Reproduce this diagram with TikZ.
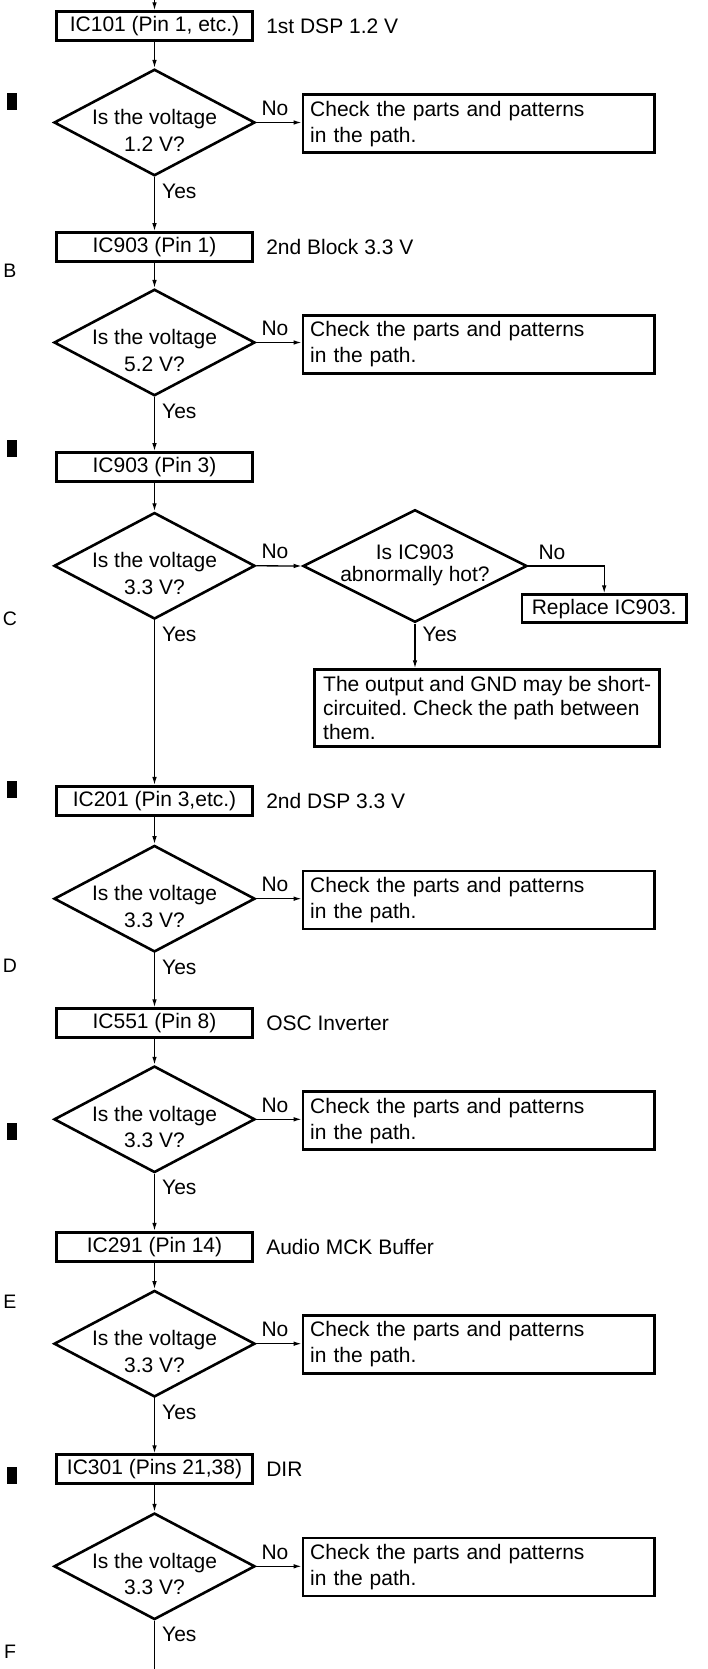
\documentclass[tikz,border=0pt]{standalone}
\usepackage{fontspec}
\setmainfont{Liberation Sans}
\usetikzlibrary{arrows.meta,shapes.geometric,calc}
\begin{document}
\frenchspacing
\begin{tikzpicture}[x=1pt,y=-1pt,
  every node/.style={font=\fontsize{21}{26}\selectfont},
  conn/.style={line width=1.3pt,-{Latex[length=8pt,width=4.6pt]}},
  plainline/.style={line width=1.3pt},
  pbox/.style={draw,line width=2.7pt,rectangle,minimum width=196.4pt,minimum height=29pt,inner sep=0pt},
  dia/.style={draw,line width=2.6pt,diamond,minimum width=201pt,minimum height=106.5pt,inner sep=0pt},
  bigdia/.style={draw,line width=2.6pt,diamond,minimum width=224pt,minimum height=112.5pt,inner sep=0pt},
  dtxt/.style={align=center,inner sep=0pt,font=\fontsize{21}{26.7}\selectfont},
  chk/.style={draw,line width=2.7pt,rectangle,minimum width=351.5pt,minimum height=58pt,inner xsep=7pt,inner ysep=0pt,text width=337pt,align=left,font=\fontsize{21}{26}\selectfont},
  side/.style={anchor=west,inner sep=0pt},
  lbl/.style={anchor=base west,inner sep=0pt},
  marker/.style={fill=black,minimum width=10pt,minimum height=17pt,inner sep=0pt},
  sect/.style={inner sep=0pt,font=\fontsize{19.5}{22}\selectfont}
]
\fill[white] (0,0) rectangle (708,1669);
\useasboundingbox (0,0) rectangle (708,1669);

% markers and section letters
\node[marker] (m1) at (11.7,101.5) {};
\node[marker] (m2) at (11.7,448.5) {};
\node[marker] (m3) at (11.7,789) {};
\node[marker] (m4) at (11.7,1131.5) {};
\node[marker] (m5) at (11.7,1475.5) {};
\node[sect] (sB) at (10,270.3) {B};
\node[sect] (sC) at (10,618.3) {C};
\node[sect] (sD) at (10,966) {D};
\node[sect] (sE) at (10,1302) {E};
\node[sect] (sF) at (10,1652) {F};

% top start
\coordinate (top) at (154.5,0);
\coordinate (bot) at (154.5,1669);

% step 1
\node[pbox] (b1) at (154.5,26.2) {IC101 (Pin 1, etc.)};
\node[side] (l1) at ($(b1.east)+(12,0)$) {1st DSP 1.2 V};
\node[dia] (d1) at (154.5,122.5) {};
\node[dtxt] (t1) at ($(d1.center)+(0,7.8)$) {Is the voltage\\1.2 V?};
\node[chk] (c1) at (478.7,123.7) {Check the parts and patterns\\in the path.};

% step 2
\node[pbox] (b2) at (154.5,247) {IC903 (Pin 1)};
\node[side] (l2) at ($(b2.east)+(12,0)$) {2nd Block 3.3 V};
\node[dia] (d2) at (154.5,342.5) {};
\node[dtxt] (t2) at ($(d2.center)+(0,7.8)$) {Is the voltage\\5.2 V?};
\node[chk] (c2) at (478.7,344.2) {Check the parts and patterns\\in the path.};

% step 3
\node[pbox] (b3) at (154.5,467) {IC903 (Pin 3)};
\node[dia] (d3) at (154.5,565.8) {};
\node[dtxt] (t3) at ($(d3.center)+(0,7.8)$) {Is the voltage\\3.3 V?};
\node[bigdia] (d4) at (415,566) {};
\node[dtxt,font=\fontsize{21}{21.7}\selectfont] (t4) at ($(d4.center)+(0,-0.5)$) {Is IC903\\abnormally hot?};
\node[draw,line width=2.7pt,minimum width=164.4pt,minimum height=28pt,inner sep=0pt] (rep) at (604.2,608.7) {Replace IC903.};
\node[draw,line width=2.7pt,minimum width=345pt,minimum height=76.8pt,inner sep=0pt,align=left,font=\fontsize{21}{24}\selectfont] (sb) at (487.2,708) {The output and GND may be short-\\circuited. Check the path between\\them.};

% step 4
\node[pbox] (b4) at (154.5,800.8) {IC201 (Pin 3,etc.)};
\node[side] (l4) at ($(b4.east)+(12,0)$) {2nd DSP 3.3 V};
\node[dia] (d5) at (154.5,898.7) {};
\node[dtxt] (t5) at ($(d5.center)+(0,7.8)$) {Is the voltage\\3.3 V?};
\node[chk] (c5) at (478.7,900) {Check the parts and patterns\\in the path.};

% step 5
\node[pbox] (b5) at (154.5,1023.2) {IC551 (Pin 8)};
\node[side] (l5) at ($(b5.east)+(12,0)$) {OSC Inverter};
\node[dia] (d6) at (154.5,1119.3) {};
\node[dtxt] (t6) at ($(d6.center)+(0,7.8)$) {Is the voltage\\3.3 V?};
\node[chk] (c6) at (478.7,1120.8) {Check the parts and patterns\\in the path.};

% step 6
\node[pbox] (b6) at (154.5,1246.7) {IC291 (Pin 14)};
\node[side] (l6) at ($(b6.east)+(12,0)$) {Audio MCK Buffer};
\node[dia] (d7) at (154.5,1343.7) {};
\node[dtxt] (t7) at ($(d7.center)+(0,7.8)$) {Is the voltage\\3.3 V?};
\node[chk] (c7) at (478.7,1344.2) {Check the parts and patterns\\in the path.};

% step 7
\node[pbox] (b7) at (154.5,1469.2) {IC301 (Pins 21,38)};
\node[side] (l7) at ($(b7.east)+(12,0)$) {DIR};
\node[dia] (d8) at (154.5,1566.3) {};
\node[dtxt] (t8) at ($(d8.center)+(0,7.8)$) {Is the voltage\\3.3 V?};
\node[chk] (c8) at (478.7,1567) {Check the parts and patterns\\in the path.};

% connectors: vertical chain
\draw[conn] (top) -- (b1.north);
\draw[conn] (b1.south) -- (d1.north);
\draw[conn] (d1.south) -- (b2.north);
\draw[conn] (b2.south) -- (d2.north);
\draw[conn] (d2.south) -- (b3.north);
\draw[conn] (b3.south) -- (d3.north);
\draw[conn] (d3.south) -- (b4.north);
\draw[conn] (b4.south) -- (d5.north);
\draw[conn] (d5.south) -- (b5.north);
\draw[conn] (b5.south) -- (d6.north);
\draw[conn] (d6.south) -- (b6.north);
\draw[conn] (b6.south) -- (d7.north);
\draw[conn] (d7.south) -- (b7.north);
\draw[conn] (b7.south) -- (d8.north);
\draw[plainline] (d8.south) -- (bot);

% No branches
\draw[conn] (d1.east) -- (d1.east -| c1.west);
\draw[conn] (d2.east) -- (d2.east -| c2.west);
\draw[conn] (d3.east) -- (d4.west);
\draw[conn] (d4.east) -| (rep.north);
\draw[conn] (d4.south) -- (d4.south |- sb.north);
\draw[conn] (d5.east) -- (d5.east -| c5.west);
\draw[conn] (d6.east) -- (d6.east -| c6.west);
\draw[conn] (d7.east) -- (d7.east -| c7.west);
\draw[conn] (d8.east) -- (d8.east -| c8.west);

% No labels
\node[lbl] (n1) at ($(d1.east)+(5,-7)$) {No};
\node[lbl] (n2) at ($(d2.east)+(5,-7)$) {No};
\node[lbl] (n3) at ($(d3.east)+(5,-7)$) {No};
\node[lbl] (n4) at ($(d4.east)+(10,-7)$) {No};
\node[lbl] (n5) at ($(d5.east)+(5,-7)$) {No};
\node[lbl] (n6) at ($(d6.east)+(5,-7)$) {No};
\node[lbl] (n7) at ($(d7.east)+(5,-7)$) {No};
\node[lbl] (n8) at ($(d8.east)+(5,-7)$) {No};

% Yes labels
\node[lbl] (y1) at ($(d1.south)+(7.5,21)$) {Yes};
\node[lbl] (y2) at ($(d2.south)+(7.5,21)$) {Yes};
\node[lbl] (y3) at ($(d3.south)+(7.5,21)$) {Yes};
\node[lbl] (y4) at ($(d4.south)+(7.5,18)$) {Yes};
\node[lbl] (y5) at ($(d5.south)+(7.5,21)$) {Yes};
\node[lbl] (y6) at ($(d6.south)+(7.5,21)$) {Yes};
\node[lbl] (y7) at ($(d7.south)+(7.5,21)$) {Yes};
\node[lbl] (y8) at ($(d8.south)+(7.5,21)$) {Yes};
\end{tikzpicture}
\end{document}
